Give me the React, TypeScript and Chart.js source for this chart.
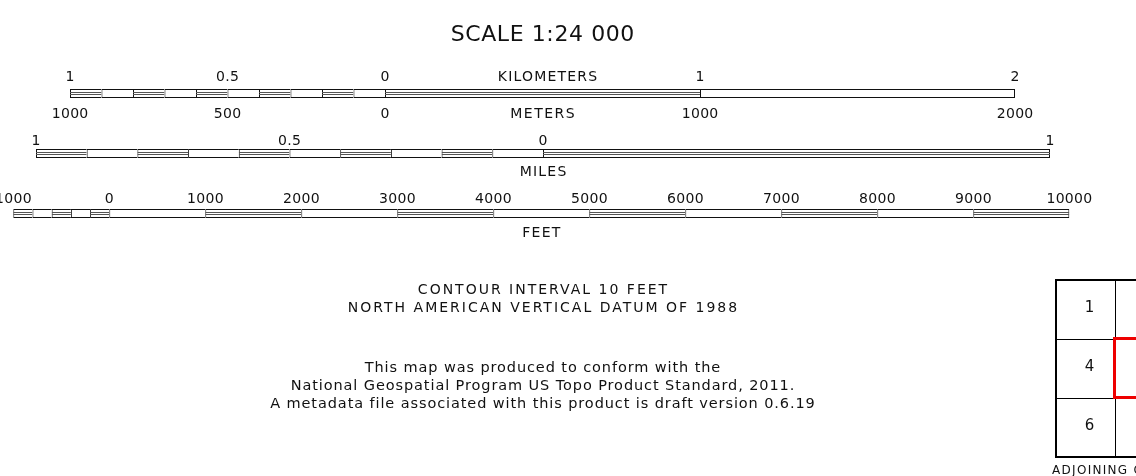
import { useEffect, useRef } from "react";
import { Chart, registerables } from "chart.js";

Chart.register(...registerables);

// ---------------- data ----------------
const kmBounds = [-1, -0.9, -0.8, -0.7, -0.6, -0.5, -0.4, -0.3, -0.2, -0.1, 0, 1, 2];
const kmFilled = [1, 0, 1, 0, 1, 0, 1, 0, 1, 0, 1, 0];
const kmTickValues = [-1, -0.5, 0, 1, 2];
const kmTickLabels = ["1", "0.5", "0", "1", "2"];
const meterTickValues = [-1000, -500, 0, 1000, 2000];
const meterTickLabels = ["1000", "500", "0", "1000", "2000"];

const miBounds = [-1, -0.9, -0.8, -0.7, -0.6, -0.5, -0.4, -0.3, -0.2, -0.1, 0, 1];
const miFilled = [1, 0, 1, 0, 1, 0, 1, 0, 1, 0, 1];
const miTickValues = [-1, -0.5, 0, 1];
const miTickLabels = ["1", "0.5", "0", "1"];

const ftBounds = [-1000, -800, -600, -400, -200, 0, 1000, 2000, 3000, 4000, 5000, 6000, 7000, 8000, 9000, 10000];
const ftFilled = [1, 0, 1, 0, 1, 0, 1, 0, 1, 0, 1, 0, 1, 0, 1];
const ftTickValues = [-1000, 0, 1000, 2000, 3000, 4000, 5000, 6000, 7000, 8000, 9000, 10000];
const ftTickLabels = ["1000", "0", "1000", "2000", "3000", "4000", "5000", "6000", "7000", "8000", "9000", "10000"];

const unitNames = ["KILOMETERS", "METERS", "MILES", "FEET"];
const scaleTitle = "SCALE 1:24 000";
const contourLines = ["CONTOUR INTERVAL 10 FEET", "NORTH AMERICAN VERTICAL DATUM OF 1988"];
const standardLines = [
  "This map was produced to conform with the",
  "National Geospatial Program US Topo Product Standard, 2011.",
  "A metadata file associated with this product is draft version 0.6.19",
];
const quadLabels = [
  ["1", "2", "3"],
  ["4", "", "5"],
  ["6", "7", "8"],
];
const quadTitle = "ADJOINING QUADRANGLES";

// rows of the scale bars (index on the y scale)
const ROW_KM = 0;
const ROW_MI = 1;
const ROW_FT = 2;

// ---------------- helpers ----------------
const segs = (bounds: number[], row: number) =>
  bounds.slice(0, -1).map((b, i) => ({ x: [b, bounds[i + 1]], y: row }));
const filledSegs = (bounds: number[], filled: number[], row: number) =>
  segs(bounds, row).filter((_, i) => filled[i] === 1);

const INK = "#111111";
const FONT = '"DejaVu Sans", sans-serif';

function outerDataset(bounds: number[], row: number, axis: string) {
  const last = bounds.length - 2;
  return {
    type: "bar" as const,
    data: segs(bounds, row),
    xAxisID: axis,
    yAxisID: "y",
    backgroundColor: "#ffffff",
    borderColor: INK,
    borderSkipped: false,
    borderWidth: (c: any) => ({ top: 1, bottom: 1, left: 1, right: c.dataIndex === last ? 1 : 0 }),
    barThickness: 9,
    grouped: false,
    inflateAmount: 0,
    order: 2,
  };
}
function innerDataset(bounds: number[], filled: number[], row: number, axis: string) {
  return {
    type: "bar" as const,
    data: filledSegs(bounds, filled, row),
    xAxisID: axis,
    yAxisID: "y",
    backgroundColor: "rgba(0,0,0,0)",
    borderColor: "#555555",
    borderSkipped: false,
    borderWidth: { top: 1, bottom: 1, left: 0, right: 0 },
    barThickness: 3,
    grouped: false,
    inflateAmount: 0,
    order: 1,
  };
}

const quadCells: { x: number[]; y: number }[] = [];
quadLabels.forEach((r, ri) => r.forEach((_, ci) => quadCells.push({ x: [ci, ci + 1], y: ri })));

function drawText(ctx: CanvasRenderingContext2D, s: string, x: number, y: number, size: number, ls: number, align: CanvasTextAlign = "center") {
  ctx.font = `${size}px ${FONT}`;
  (ctx as any).letterSpacing = `${ls}px`;
  ctx.textAlign = align;
  ctx.textBaseline = "middle";
  ctx.fillStyle = INK;
  ctx.fillText(s, align === "center" ? x + ls / 2 : x, y);
}

const textPlugin = {
  id: "scaleText",
  afterDatasetsDraw(chart: any) {
    const ctx: CanvasRenderingContext2D = chart.ctx;
    const s = chart.scales;
    const y = s.y;
    const km = s.xKm, mi = s.xMi, ft = s.xFt, gx = s.gx, gy = s.gy;
    ctx.save();

    // title
    drawText(ctx, scaleTitle, km.getPixelForValue(0.5), 35, 22, 0.6);

    // kilometers / meters
    const yKm = y.getPixelForValue(ROW_KM);
    kmTickValues.forEach((v, i) => drawText(ctx, kmTickLabels[i], km.getPixelForValue(v), yKm - 16, 14, 0.3));
    drawText(ctx, unitNames[0], km.getPixelForValue(0.5) + 5, yKm - 16, 14, 1.2);
    meterTickValues.forEach((v, i) => drawText(ctx, meterTickLabels[i], km.getPixelForValue(v / 1000), yKm + 21, 14, 0.3));
    drawText(ctx, unitNames[1], km.getPixelForValue(0.5), yKm + 21, 14, 1.5);

    // miles
    const yMi = y.getPixelForValue(ROW_MI);
    miTickValues.forEach((v, i) => drawText(ctx, miTickLabels[i], mi.getPixelForValue(v), yMi - 12.5, 14, 0.3));
    drawText(ctx, unitNames[2], mi.getPixelForValue(0), yMi + 18.5, 14, 1.2);

    // feet
    const yFt = y.getPixelForValue(ROW_FT);
    ftTickValues.forEach((v, i) => drawText(ctx, ftTickLabels[i], ft.getPixelForValue(v), yFt - 14, 14, 0.3));
    drawText(ctx, unitNames[3], ft.getPixelForValue(4500), yFt + 20, 14, 1.2);

    // notes
    const cx = km.getPixelForValue(0.5);
    contourLines.forEach((t, i) => drawText(ctx, t, cx, 290 + i * 18, 14, 2.0));
    standardLines.forEach((t, i) => drawText(ctx, t, cx, 368 + i * 18, 14.5, 0.9));

    // adjoining quadrangles grid
    const x0 = gx.getPixelForValue(0), x3 = gx.getPixelForValue(3);
    const yTop = gy.getPixelForValue(-0.5), yBot = gy.getPixelForValue(2.5);
    ctx.strokeStyle = "#000";
    ctx.lineWidth = 2;
    ctx.strokeRect(x0, yTop, x3 - x0, yBot - yTop);
    ctx.strokeStyle = "#ee0000";
    ctx.lineWidth = 3;
    const rx0 = gx.getPixelForValue(1), rx1 = gx.getPixelForValue(2);
    const ry0 = gy.getPixelForValue(0.5), ry1 = gy.getPixelForValue(1.5);
    ctx.strokeRect(rx0 - 0.5, ry0 - 0.5, rx1 - rx0, ry1 - ry0);
    quadLabels.forEach((r, ri) =>
      r.forEach((t, ci) => {
        if (t) drawText(ctx, t, gx.getPixelForValue(ci + 0.5) + 4, gy.getPixelForValue(ri) - 1, 15, 0);
      })
    );
    drawText(ctx, quadTitle, x0 - 4, yBot + 14, 12, 1.3, "left");
    ctx.restore();
  },
};

export default function App() {
  const ref = useRef<HTMLCanvasElement | null>(null);
  useEffect(() => {
    if (!ref.current) return;
    const chart = new Chart(ref.current, {
      type: "bar",
      data: {
        datasets: [
          innerDataset(kmBounds, kmFilled, ROW_KM, "xKm"),
          outerDataset(kmBounds, ROW_KM, "xKm"),
          innerDataset(miBounds, miFilled, ROW_MI, "xMi"),
          outerDataset(miBounds, ROW_MI, "xMi"),
          innerDataset(ftBounds, ftFilled, ROW_FT, "xFt"),
          outerDataset(ftBounds, ROW_FT, "xFt"),
          {
            type: "bar",
            data: quadCells,
            xAxisID: "gx",
            yAxisID: "gy",
            backgroundColor: "#ffffff",
            borderColor: "#000000",
            borderSkipped: false,
            borderWidth: { top: 1, left: 1, right: 0, bottom: 0 },
            barThickness: 59,
            grouped: false,
            inflateAmount: 0,
            order: 3,
          },
        ] as any,
      },
      options: {
        indexAxis: "y",
        responsive: false,
        animation: false,
        events: [],
        layout: { padding: 0 },
        plugins: { legend: { display: false }, tooltip: { enabled: false }, title: { display: false } },
        scales: {
          xKm: { type: "linear", display: false, offset: false, bounds: "data", min: -1.2222, max: 2.3841 },
          xMi: { type: "linear", display: false, offset: false, bounds: "data", min: -1.071, max: 1.1696 },
          xFt: { type: "linear", display: false, offset: false, bounds: "data", min: -1138.5, max: 10694.8 },
          y: { type: "linear", display: false, offset: false, bounds: "data", reverse: true, min: -1.55833, max: 6.375 },
          gx: { type: "linear", display: false, offset: false, bounds: "data", min: -17.8983, max: 1.3559 },
          gy: { type: "linear", display: false, offset: false, bounds: "data", reverse: true, min: -5.2458, max: 2.822 },
        },
      } as any,
      plugins: [textPlugin],
    });
    return () => chart.destroy();
  }, []);
  return (
    <div style={{ position: "absolute", left: 0, top: 0, width: 1136, height: 476, background: "#fff", overflow: "hidden" }}>
      <canvas ref={ref} width={1136} height={476} style={{ display: "block" }} />
    </div>
  );
}
